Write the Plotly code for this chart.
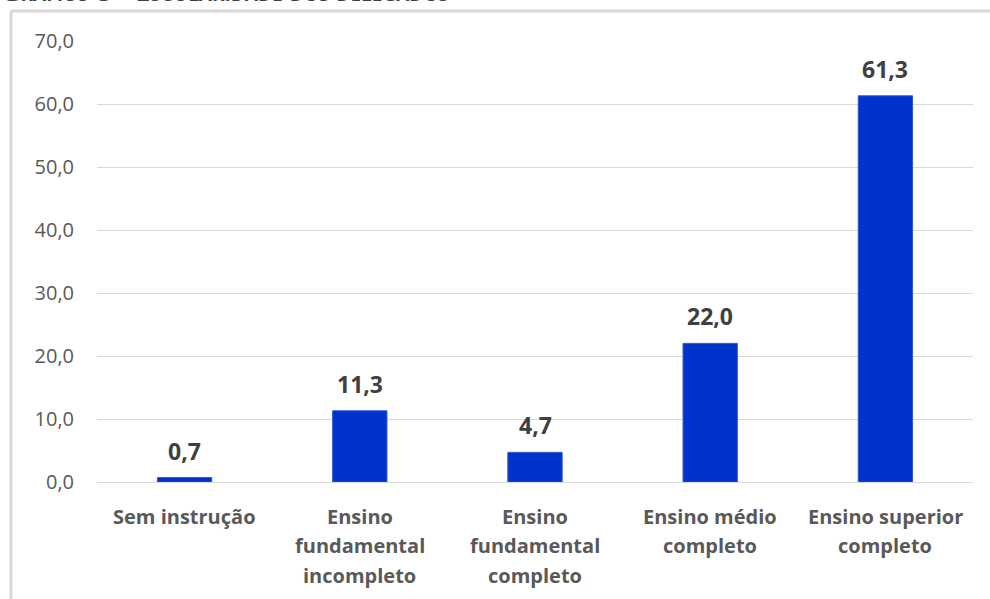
import plotly.graph_objects as go

# Escolaridade dos delegados (%)
categories = [
    "Sem instrução",
    "Ensino fundamental incompleto",
    "Ensino fundamental completo",
    "Ensino médio completo",
    "Ensino superior completo",
]
category_lines = [
    ["Sem instrução"],
    ["Ensino", "fundamental", "incompleto"],
    ["Ensino", "fundamental", "completo"],
    ["Ensino médio", "completo"],
    ["Ensino superior", "completo"],
]
values = [0.7, 11.3, 4.7, 22.0, 61.3]
y_ticks = [0, 10, 20, 30, 40, 50, 60, 70]
title_text = "Gráfico 5 - Escolaridade dos delegados"

W, H = 990, 599
ML, MR, MT, MB = 97, 17, 41, 117
PW, PH = W - ML - MR, H - MT - MB


def px_x(px):
    return (px - ML) / PW


def px_y(py):
    return (H - MB - py) / PH


BAR = "#0033CC"
GRID = "#D9D9D9"
TICK = "#595959"
LABEL = "#404040"
FONT = "Open Sans"

fig = go.Figure(
    go.Bar(
        x=categories,
        y=values,
        marker=dict(color=BAR, line=dict(color="#2E55D6", width=1)),
        width=0.31,
        hoverinfo="skip",
    )
)

annotations = []
# value labels above the bars
for cat, v in zip(categories, values):
    annotations.append(dict(
        x=cat, y=v, xref="x", yref="y",
        text=f"{v:.1f}".replace(".", ","),
        showarrow=False, yanchor="middle", yshift=27,
        font=dict(family=FONT, size=23, color=LABEL, weight="bold"),
    ))

# category labels, one line at a time
line_y0, line_step = 516, 29.5
for cat, lines in zip(categories, category_lines):
    for i, line in enumerate(lines):
        annotations.append(dict(
            x=cat, xref="x", yref="paper",
            y=px_y(line_y0 + i * line_step),
            text=line, showarrow=False, yanchor="middle",
            font=dict(family=FONT, size=20, color=TICK, weight="bold"),
        ))

# heading, partly above the page edge
annotations.append(dict(
    x=px_x(-1), y=px_y(11), xref="paper", yref="paper",
    xanchor="left", yanchor="bottom",
    text=title_text, showarrow=False,
    font=dict(family=FONT, size=27, color="#3F3F3F", weight="bold",
              variant="small-caps"),
))

shapes = [
    # frame around the chart
    dict(type="line", xref="paper", yref="paper",
         x0=px_x(11), x1=px_x(W + 5), y0=px_y(11), y1=px_y(11),
         line=dict(color=GRID, width=3)),
    dict(type="line", xref="paper", yref="paper",
         x0=px_x(11), x1=px_x(11), y0=px_y(11), y1=px_y(H + 5),
         line=dict(color=GRID, width=3)),
]

fig.update_layout(
    width=W, height=H,
    margin=dict(l=ML, r=MR, t=MT, b=MB, autoexpand=False),
    paper_bgcolor="white", plot_bgcolor="white",
    showlegend=False,
    bargap=0.69,
    annotations=annotations,
    shapes=shapes,
    xaxis=dict(
        showticklabels=False, showgrid=False, zeroline=False,
        showline=False, ticks="",
    ),
    yaxis=dict(
        range=[0, 70],
        tickvals=y_ticks,
        ticktext=[f"{t:.1f}".replace(".", ",") for t in y_ticks],
        tickfont=dict(family=FONT, size=20, color=TICK),
        ticklabelstandoff=22,
        showgrid=True, gridcolor=GRID, gridwidth=1,
        zeroline=True, zerolinecolor=GRID, zerolinewidth=1,
        showline=False, ticks="",
    ),
)

fig.write_html("out.html")
